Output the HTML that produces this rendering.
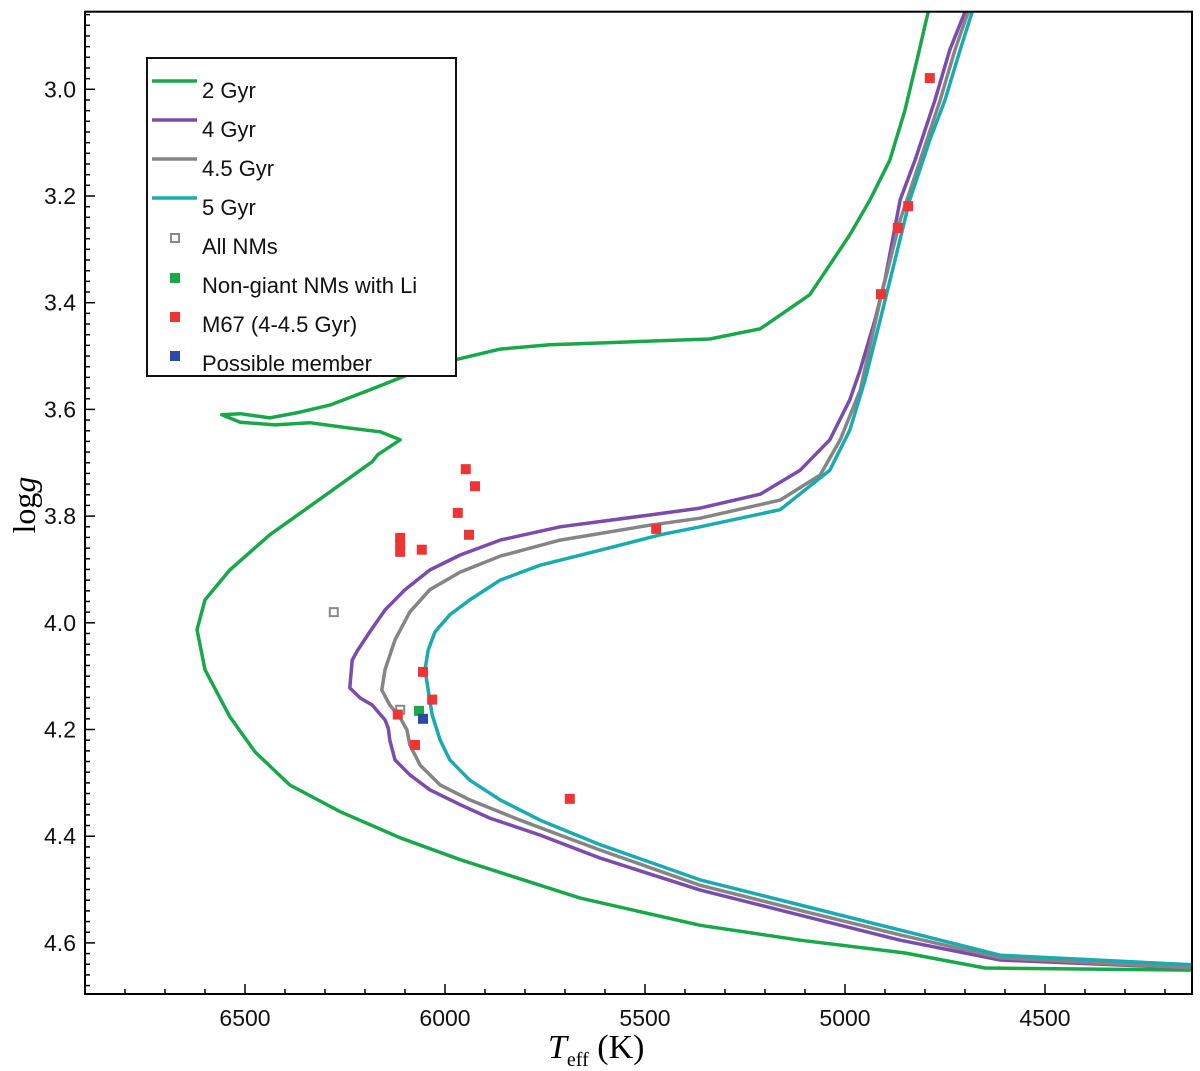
<!DOCTYPE html>
<html><head><meta charset="utf-8"><style>
html,body{margin:0;padding:0;background:#fff;}
svg{display:block;font-family:"Liberation Sans",Arial,sans-serif;}
</style></head><body>
<svg id="chart" width="1200" height="1071" viewBox="0 0 1200 1071">
<g id="plot"></g>
</svg>
<script>
const xTickValues=[6500,6000,5500,5000,4500];
const yTickValues=[3.0,3.2,3.4,3.6,3.8,4.0,4.2,4.4,4.6];
const iso2T=[4132,4650,4850,5112,5362,5662,5962,6112,6262,6388,6475,6538,6600,6620,6600,6538,6438,6288,6182,6168,6112,6162,6238,6338,6425,6512,6558,6512,6438,6362,6288,6200,6062,5975,5862,5738,5562,5338,5212,5150,5088,5038,4988,4938,4888,4850,4820,4792];
const iso2G=[4.651,4.647,4.619,4.595,4.567,4.516,4.444,4.403,4.354,4.304,4.242,4.176,4.088,4.013,3.957,3.901,3.835,3.755,3.698,3.685,3.657,3.642,3.635,3.625,3.629,3.624,3.610,3.608,3.616,3.605,3.592,3.567,3.526,3.507,3.487,3.479,3.474,3.468,3.449,3.417,3.385,3.329,3.273,3.208,3.133,3.039,2.945,2.855];
const iso4T=[4132,4612,4862,5112,5362,5612,5762,5888,5962,6038,6088,6125,6138,6142,6150,6182,6212,6238,6232,6218,6188,6150,6100,6038,5962,5862,5712,5488,5362,5212,5112,5038,4988,4962,4925,4900,4862,4825,4775,4738,4700];
const iso4G=[4.647,4.632,4.595,4.548,4.501,4.441,4.398,4.366,4.341,4.313,4.285,4.257,4.220,4.197,4.182,4.154,4.141,4.122,4.070,4.051,4.017,3.976,3.938,3.901,3.873,3.845,3.820,3.798,3.785,3.759,3.714,3.657,3.582,3.526,3.432,3.357,3.207,3.133,3.020,2.926,2.855];
const iso45T=[4132,4612,4862,5112,5362,5612,5812,5938,6012,6062,6088,6095,6112,6138,6158,6150,6125,6088,6038,5962,5862,5712,5488,5362,5162,5062,5012,4962,4912,4862,4812,4762,4725,4692];
const iso45G=[4.647,4.628,4.585,4.539,4.492,4.426,4.370,4.332,4.304,4.267,4.229,4.201,4.178,4.154,4.126,4.088,4.032,3.980,3.938,3.905,3.875,3.845,3.817,3.804,3.770,3.723,3.657,3.564,3.395,3.245,3.133,3.020,2.926,2.855];
const iso5T=[4132,4612,4862,5112,5362,5612,5762,5862,5938,5988,6012,6032,6042,6050,6042,6025,5988,5938,5862,5762,5612,5462,5362,5162,5038,4988,4950,4912,4875,4838,4788,4750,4712,4682];
const iso5G=[4.641,4.623,4.576,4.529,4.482,4.416,4.370,4.332,4.295,4.257,4.220,4.173,4.126,4.088,4.051,4.017,3.985,3.957,3.920,3.892,3.864,3.835,3.820,3.788,3.714,3.639,3.545,3.432,3.320,3.207,3.095,3.020,2.926,2.855];
const m67T=[4788,4842,4868,4910,5948,5925,5968,5940,6112,6112,6112,6058,5472,6055,6032,6118,6075,5688];
const m67G=[2.979,3.219,3.260,3.384,3.712,3.744,3.794,3.835,3.841,3.854,3.867,3.863,3.824,4.092,4.144,4.172,4.229,4.330];
const nmT=[6278,6112];
const nmG=[3.980,4.163];
const liT=[6065];
const liG=[4.165];
const possT=[6055];
const possG=[4.180];

const NS='http://www.w3.org/2000/svg';
const L=85,R=1192,T=11.7,B=994;
function xs(t){return 245+(6500-t)*0.4;}
function ys(g){return 89.3+(g-3)*533.5;}
const g=document.getElementById('plot');
function mk(tag,attrs,parent){const e=document.createElementNS(NS,tag);for(const k in attrs)e.setAttribute(k,attrs[k]);(parent||g).appendChild(e);return e;}

const defs=mk('defs',{});
const cp=mk('clipPath',{id:'clip'},defs);
mk('rect',{x:L,y:T,width:R-L,height:B-T},cp);

const curves=mk('g',{'clip-path':'url(#clip)'});


function line(ts,gs,color,name){
  const d=ts.map((t,i)=>(i?'L':'M')+xs(t).toFixed(1)+' '+ys(gs[i]).toFixed(1)).join(' ');
  const p=mk('path',{d:d,fill:'none',stroke:color,'stroke-width':3.5,'stroke-linejoin':'round'},curves);
  
  
}
line(iso2T,iso2G,'#18a84a','isochrone-2-gyr');
line(iso4T,iso4G,'#7a4cab','isochrone-4-gyr');
line(iso45T,iso45G,'#858585','isochrone-4-5-gyr');
line(iso5T,iso5G,'#1aabb0','isochrone-5-gyr');

function pts(ts,gs,fill,stroke,name){
  ts.forEach((t,i)=>{
    const s=stroke?8:10;
    const r=mk('rect',{x:xs(t)-s/2,y:ys(gs[i])-s/2,width:s,height:s,fill:fill,stroke:stroke||'none','stroke-width':2});
    
    
  });
}
pts(nmT,nmG,'#fff','#888','all-nm-point');
pts(m67T,m67G,'#ee3535',null,'m67-point');
pts(liT,liG,'#1aa848',null,'li-nm-point');
pts(possT,possG,'#2a4aa8',null,'possible-member-point');

const frame=mk('rect',{x:L,y:T,width:R-L,height:B-T,fill:'none',stroke:'#000','stroke-width':2});



for(let t=6900;t>=4200;t-=100){
  const x=xs(t);const major=t%500===0;
  mk('line',{x1:x,x2:x,y1:B,y2:B-(major?10:5),stroke:'#000','stroke-width':1.5});
}
xTickValues.forEach(v=>{
  const tx=mk('text',{x:xs(v),y:B+32,'text-anchor':'middle','font-size':23,fill:'#111'});
  tx.textContent=v;
  
  
});
for(let k=143;k<=234;k++){
  const v=k/50;const y=ys(v);if(y<T||y>B)continue;
  const major=k%10===0;
  mk('line',{x1:L,x2:L+(major?10:5),y1:y,y2:y,stroke:'#000','stroke-width':1.5});
}
yTickValues.forEach(v=>{
  const tx=mk('text',{x:L-9,y:ys(v)+8,'text-anchor':'end','font-size':23,fill:'#111'});
  tx.textContent=v.toFixed(1);
  
  
});
</script>
<svg style="position:absolute;left:0;top:0" width="1200" height="1071">
<text x="35" y="505" transform="rotate(-90 35 505)" text-anchor="middle" font-family="Liberation Serif,serif" font-size="32">log<tspan font-style="italic">g</tspan></text>
<text x="548" y="1058" font-family="Liberation Serif,serif" font-size="34"><tspan font-style="italic">T</tspan><tspan font-size="20" dy="8">eff</tspan><tspan dy="-8"> (K)</tspan></text>
<g font-family="Liberation Sans,Arial,sans-serif" font-size="22" fill="#111">
<rect x="147" y="58" width="309" height="318" fill="#fff" stroke="#111" stroke-width="2"/>
<line x1="152" y1="81" x2="197" y2="81" stroke="#18a84a" stroke-width="3.5"/>
<text x="202" y="98">2 Gyr</text>
<line x1="152" y1="120" x2="197" y2="120" stroke="#7a4cab" stroke-width="3.5"/>
<text x="202" y="137">4 Gyr</text>
<line x1="152" y1="159" x2="197" y2="159" stroke="#858585" stroke-width="3.5"/>
<text x="202" y="176">4.5 Gyr</text>
<line x1="152" y1="198" x2="197" y2="198" stroke="#1aabb0" stroke-width="3.5"/>
<text x="202" y="215">5 Gyr</text>
<rect x="171" y="234" width="8" height="8" fill="#fff" stroke="#888" stroke-width="2"/>
<text x="202" y="254">All NMs</text>
<rect x="170" y="273" width="10" height="10" fill="#1aa848"/>
<text x="202" y="293">Non-giant NMs with Li</text>
<rect x="170" y="312" width="10" height="10" fill="#ee3535"/>
<text x="202" y="332">M67 (4-4.5 Gyr)</text>
<rect x="170" y="351" width="10" height="10" fill="#2a4aa8"/>
<text x="202" y="371">Possible member</text>
</g>
</svg>
</body></html>
